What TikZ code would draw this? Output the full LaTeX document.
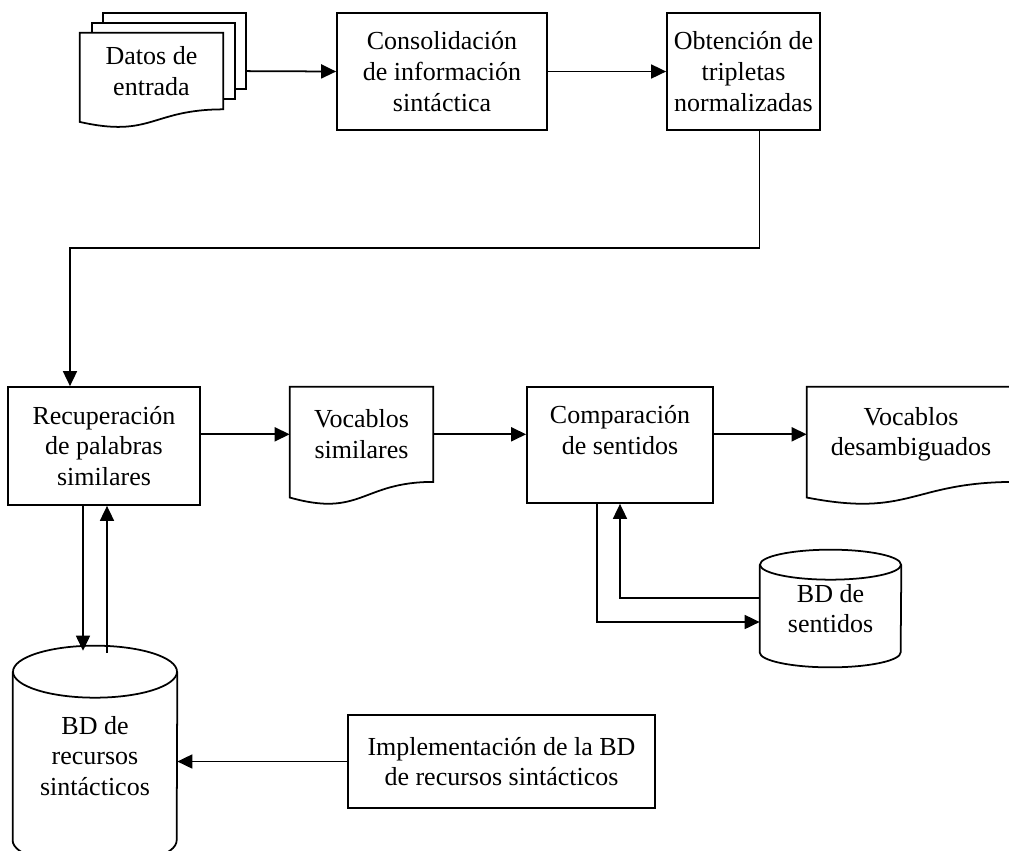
\documentclass[tikz,border=0pt]{standalone}
\usepackage{fontspec}
\setmainfont{Liberation Serif}
\usetikzlibrary{arrows.meta, calc}

\pgfdeclarelayer{background}
\pgfsetlayers{background,main}

\tikzset{
  box/.style={draw, line width=1pt, align=center, inner sep=2pt},
  doc/.style={align=center, inner sep=2pt},
  db/.style={align=center, inner sep=2pt},
  arr/.style={-{Triangle[length=0.3cm, width=0.28cm]}, line width=1pt},
  outline/.style={line width=1pt}
}

% document sheet with wavy bottom, #2 = height of the node
\newcommand{\docshape}[2]{%
  \filldraw[outline, fill=white] (#1.north west) -- (#1.north east) -- (#1.south east)
    .. controls (#1.south) and ($(#1.south)+(0,-0.38*#2)$) .. ($(#1.south west)+(0,-0.165*#2)$) -- cycle;}

% database cylinder, #2 = x radius, #3 = y radius
\newcommand{\dbshape}[3]{%
  \draw[outline] ($(#1.north)+(0,-#3)$) ellipse [x radius=#2, y radius=#3];
  \draw[outline] ($(#1.north west)+(0,-#3)$) -- ($(#1.south west)+(0,#3)$)
    arc [start angle=180, end angle=360, x radius=#2, y radius=#3] -- ($(#1.north east)+(0,-#3)$);}

\begin{document}
\begin{tikzpicture}[x=0.02cm, y=0.02cm, font=\fontsize{14.8}{17.5}\selectfont]
    \clip (0,0) rectangle (1009,-850);

    % first row
    \node[doc, minimum width=2.86cm, minimum height=1.52cm] (datos) at (151.5,-71) {Datos de\\entrada};
    \node[box, minimum width=4.2cm, minimum height=2.34cm] (cons) at (442,-71.5) {Consolidación\\de información\\sintáctica};
    \node[box, minimum width=3.06cm, minimum height=2.34cm] (obt) at (743.5,-71.5) {Obtención de\\tripletas\\normalizadas};

    % second row
    \node[box, minimum width=3.84cm, minimum height=2.36cm] (recup) at (104,-446) {Recuperación\\de palabras\\similares};
    \node[doc, minimum width=2.86cm, minimum height=1.89cm] (vocsim) at (361.5,-434.3) {Vocablos\\similares};
    \node[box, minimum width=3.72cm, minimum height=2.32cm] (comp) at (620,-445) {Comparación\\de sentidos\\~};
    \node[doc, minimum width=4.16cm, minimum height=1.89cm] (vocdes) at (911,-434.3) {Vocablos\\desambiguados};

    % databases
    \node[db, minimum width=2.82cm, minimum height=2.34cm] (bdsen) at (830.5,-608.5) {BD de\\sentidos};
    \node[db, minimum width=3.28cm, minimum height=4.4cm] (bdrec) at (95,-756) {BD de\\recursos\\sintácticos};
    \node[box, minimum width=6.14cm, minimum height=1.86cm] (impl) at (501.5,-761.5) {Implementación de la BD\\de recursos sintácticos};

    \begin{pgfonlayer}{background}
        % input sheets
        \draw[arr] (datos.east) -- (cons.west);
        \filldraw[outline, fill=white] ($(datos.north west)+(23,20)$) rectangle ($(datos.south east)+(23,20)$);
        \filldraw[outline, fill=white] ($(datos.north west)+(12,10)$) rectangle ($(datos.south east)+(12,10)$);
        \docshape{datos}{76}

        \docshape{vocsim}{94.6}
        \docshape{vocdes}{94.6}
        \dbshape{bdsen}{70.5}{15}
        \dbshape{bdrec}{82}{26}
    \end{pgfonlayer}

    % connectors
    \draw[arr] (cons.east) -- (obt.west);
    \draw[arr] ($(obt.south)+(16,0)$) -- ++(0,-117) -| ($(recup.north)+(-34,0)$);
    \draw[arr] (recup.east |- vocsim.west) -- (vocsim.west);
    \draw[arr] (vocsim.east) -- (vocsim.east -| comp.west);
    \draw[arr] (comp.east |- vocdes.west) -- (vocdes.west);

    \coordinate (dnA) at ($(bdrec.north)+(-12,-5)$);
    \coordinate (upA) at ($(bdrec.north)+(12,-7)$);
    \draw[arr] (recup.south -| dnA) -- (dnA);
    \draw[arr] (upA) -- (upA |- recup.south);

    \draw[arr] ($(comp.south)+(-23,0)$) |- ($(bdsen.west)+(0,-13.5)$);
    \draw[arr] ($(bdsen.west)+(0,10.5)$) -| (comp.south);

    \draw[arr] (impl.west) -- (impl.west -| bdrec.east);
\end{tikzpicture}
\end{document}
